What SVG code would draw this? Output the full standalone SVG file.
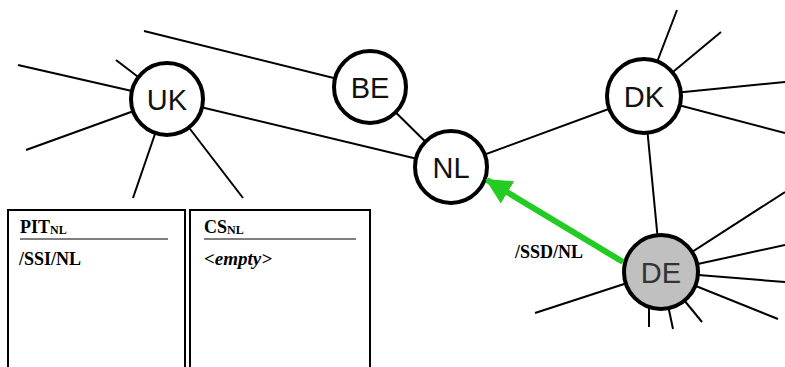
<svg xmlns="http://www.w3.org/2000/svg" width="785" height="367" viewBox="0 0 785 367">
  <style>
    .edge { stroke: #000; stroke-width: 2; fill: none; }
    .node circle { fill: #fff; stroke: #000; stroke-width: 4; }
    .node text { font-family: "Liberation Sans", Arial, sans-serif; font-size: 29px; text-anchor: middle; fill: #111; }
    .box { fill: #fff; stroke: #000; stroke-width: 2; }
    .rule { stroke: #000; stroke-width: 1.2; }
    .tbl { font-family: "Liberation Serif", "Times New Roman", serif; font-weight: bold; font-size: 18px; fill: #000; }
    .sub { font-size: 12px; }
  </style>
  <defs>
    <marker id="greenHead" markerUnits="userSpaceOnUse" markerWidth="26" markerHeight="26" viewBox="0 0 26 26" refX="24" refY="13" orient="auto">
      <path d="M0,0 L26,13 L0,26 Z" fill="#22cc22"/>
    </marker>
  </defs>

  <rect width="785" height="367" fill="#fff"/>

  <g id="connectors">
    <!-- UK spokes -->
    <line class="edge" x1="18" y1="65" x2="167" y2="99"/>
    <line class="edge" x1="26" y1="150" x2="167" y2="99"/>
    <line class="edge" x1="116" y1="60" x2="167" y2="99"/>
    <line class="edge" x1="133" y1="198" x2="167" y2="99"/>
    <line class="edge" x1="243" y1="198" x2="167" y2="99"/>
    <!-- backbone -->
    <line class="edge" x1="167" y1="99" x2="451" y2="167"/>
    <line class="edge" x1="144" y1="31" x2="370" y2="87"/>
    <line class="edge" x1="370" y1="87" x2="451" y2="167"/>
    <line class="edge" x1="451" y1="167" x2="644" y2="96"/>
    <line class="edge" x1="644" y1="96" x2="661" y2="272"/>
    <!-- DK spokes -->
    <line class="edge" x1="644" y1="96" x2="677" y2="10"/>
    <line class="edge" x1="644" y1="96" x2="721" y2="32"/>
    <line class="edge" x1="644" y1="96" x2="785" y2="82"/>
    <line class="edge" x1="644" y1="96" x2="785" y2="133"/>
    <!-- DE spokes -->
    <line class="edge" x1="661" y1="272" x2="785" y2="192"/>
    <line class="edge" x1="661" y1="272" x2="785" y2="245"/>
    <line class="edge" x1="661" y1="272" x2="785" y2="282"/>
    <line class="edge" x1="661" y1="272" x2="778" y2="319"/>
    <line class="edge" x1="661" y1="272" x2="702" y2="322"/>
    <line class="edge" x1="661" y1="272" x2="673" y2="329"/>
    <line class="edge" x1="649" y1="272" x2="649" y2="327"/>
    <line class="edge" x1="661" y1="272" x2="535" y2="313"/>
  </g>

  <g id="UK" class="node">
    <circle cx="167" cy="99" r="36"/>
    <text x="167" y="110">UK</text>
  </g>
  <g id="BE" class="node">
    <circle cx="370" cy="87" r="36"/>
    <text x="370" y="98">BE</text>
  </g>
  <g id="NL" class="node">
    <circle cx="451" cy="167" r="36"/>
    <text x="451" y="178">NL</text>
  </g>
  <g id="DK" class="node">
    <circle cx="644" cy="96" r="37"/>
    <text x="644" y="107">DK</text>
  </g>
  <g id="DE" class="node">
    <circle cx="661" cy="272" r="37" style="fill:#c0c0c0"/>
    <text x="661" y="283" style="fill:#333">DE</text>
  </g>

  <g id="request">
    <line x1="623" y1="262" x2="487" y2="180" stroke="#22cc22" stroke-width="6" marker-end="url(#greenHead)"/>
    <text class="tbl" x="515" y="258">/SSD/NL</text>
  </g>

  <g id="pit-table">
    <rect class="box" x="8" y="210" width="177" height="170"/>
    <line class="rule" x1="20" y1="239" x2="168" y2="239"/>
    <text class="tbl" x="20" y="233">PIT<tspan class="sub" dy="1">NL</tspan></text>
    <text class="tbl" x="19" y="265">/SSI/NL</text>
  </g>
  <g id="cs-table">
    <rect class="box" x="190" y="210" width="180" height="170"/>
    <line class="rule" x1="204" y1="239" x2="356" y2="239"/>
    <text class="tbl" x="204" y="233">CS<tspan class="sub" dy="1">NL</tspan></text>
    <text class="tbl" x="204" y="265" font-style="italic" style="font-size:19px">&lt;empty&gt;</text>
  </g>
</svg>
